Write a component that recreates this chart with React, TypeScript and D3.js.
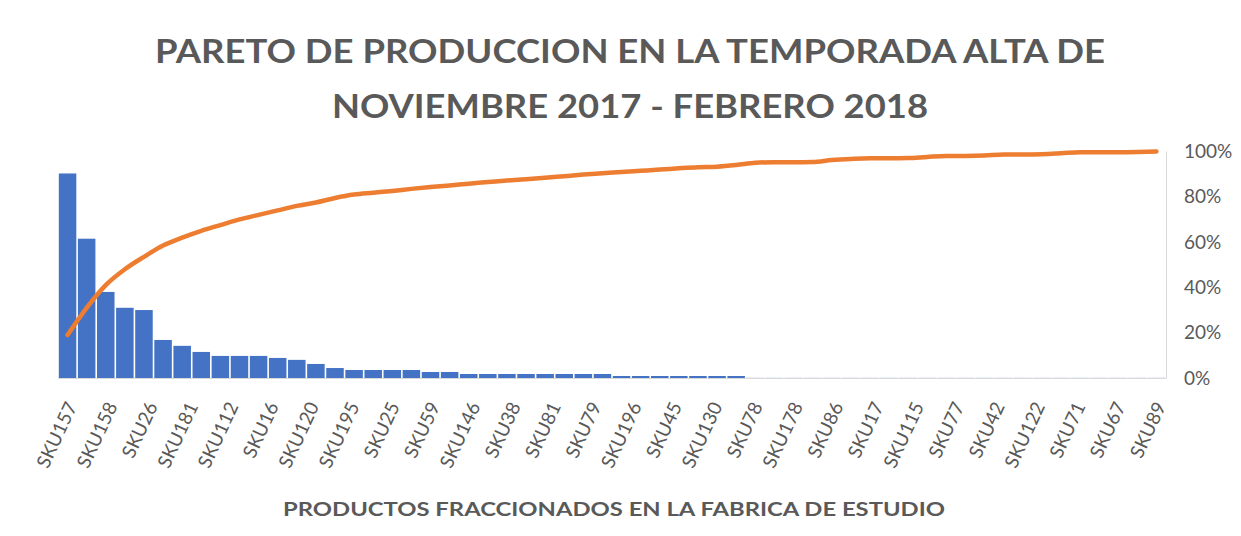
import React from 'react';
import * as d3 from 'd3';

const W = 1241;
const H = 536;

const titleLines = ['PARETO DE PRODUCCION EN LA TEMPORADA ALTA DE', 'NOVIEMBRE 2017 - FEBRERO 2018'];
const xAxisTitle = 'PRODUCTOS FRACCIONADOS EN LA FABRICA DE ESTUDIO';

// production per SKU (sorted, descending)
const barValues = [
  9030, 6150, 3800, 3100, 3000, 1680, 1420, 1150, 975, 975,
  975, 885, 800, 620, 440, 354, 354, 354, 354, 265,
  265, 177, 177, 177, 177, 177, 177, 177, 177, 88,
  88, 88, 88, 88, 88, 88, 5, 5, 5, 5,
  5, 5, 5, 5, 5, 5, 5, 5, 5, 5,
  5, 5, 5, 5, 5, 5, 5, 5,
];

// cumulative percentage (%)
const cumulative = [
  19, 31, 41, 48, 53.5, 58.5, 62, 65, 67.5, 70,
  72, 74, 76, 77.5, 79.5, 81, 81.8, 82.6, 83.5, 84.3,
  85, 85.8, 86.5, 87.2, 87.8, 88.4, 89.1, 89.8, 90.4, 91,
  91.5, 92, 92.6, 93.1, 93.3, 94, 95, 95.3, 95.3, 95.4,
  96.2, 96.7, 97, 97, 97.1, 97.6, 98, 98, 98.2, 98.7,
  98.7, 98.8, 99.2, 99.7, 99.7, 99.7, 99.8, 100,
];

const tickLabels = [
  'SKU157', 'SKU158', 'SKU26', 'SKU181', 'SKU112', 'SKU16', 'SKU120', 'SKU195',
  'SKU25', 'SKU59', 'SKU146', 'SKU38', 'SKU81', 'SKU79', 'SKU196', 'SKU45',
  'SKU130', 'SKU78', 'SKU178', 'SKU86', 'SKU17', 'SKU115', 'SKU77', 'SKU42',
  'SKU122', 'SKU71', 'SKU67', 'SKU89',
];

const FONT = 'Lato, "Open Sans", sans-serif';
const GRAY = '#595959';

export default function App() {
  const n = barValues.length;
  const x = d3.scaleBand<number>().domain(d3.range(n)).range([58, 1166]).padding(0);
  const bw = x.bandwidth();
  const yBar = d3.scaleLinear().domain([0, 10000]).range([378, 151.5]);
  const yPct = d3.scaleLinear().domain([0, 1]).range([378, 151.5]);
  const xLab = d3
    .scalePoint<string>()
    .domain(tickLabels)
    .range([(x(0) as number) + bw / 2, (x(n - 1) as number) + bw / 2]);
  const line = d3
    .line<number>()
    .x((_, i) => (x(i) as number) + bw / 2)
    .y((d) => yPct(d / 100))
    .curve(d3.curveMonotoneX);
  const pctFmt = d3.format('.0%');

  return (
    <svg width={W} height={H} style={{ position: 'absolute', left: 0, top: 0, background: '#fff' }}>
      <rect x={0} y={0} width={W} height={H} fill="#fff" />
      <g fontFamily={FONT} fontWeight={700} fill={GRAY} textAnchor="middle">
        <text x={630} y={62.5} fontSize={32} textLength={950} lengthAdjust="spacingAndGlyphs">
          {titleLines[0]}
        </text>
        <text x={630} y={117.5} fontSize={32} textLength={596} lengthAdjust="spacingAndGlyphs">
          {titleLines[1]}
        </text>
      </g>
      <g>
        {barValues.map((v, i) => (
          <rect
            key={i}
            x={(x(i) as number) + 0.8}
            y={yBar(v)}
            width={bw - 1.6}
            height={378 - yBar(v)}
            fill="#4472C4"
          />
        ))}
      </g>
      <line x1={58} x2={1166} y1={378.5} y2={378.5} stroke="#d9d9d9" strokeWidth={1} />
      <line x1={1166.5} x2={1166.5} y1={151.5} y2={378.5} stroke="#d9d9d9" strokeWidth={1} />
      <path d={line(cumulative) || ''} fill="none" stroke="#ED7D31" strokeWidth={4.5} strokeLinecap="round" strokeLinejoin="round" />
      <g fontFamily={FONT} fontSize={19} fill={GRAY}>
        {yPct.ticks(5).map((t) => (
          <text key={t} x={1184} y={yPct(t)} dy="0.35em">
            {pctFmt(t)}
          </text>
        ))}
      </g>
      <g fontFamily={FONT} fontSize={19} fill={GRAY}>
        {tickLabels.map((l) => (
          <text
            key={l}
            textAnchor="end"
            transform={`translate(${(xLab(l) as number) + 10},${406}) rotate(-65)`}
          >
            {l}
          </text>
        ))}
      </g>
      <text
        x={614}
        y={516}
        fontFamily={FONT}
        fontWeight={700}
        fontSize={18}
        fill={GRAY}
        textAnchor="middle"
        textLength={662}
        lengthAdjust="spacingAndGlyphs"
      >
        {xAxisTitle}
      </text>
    </svg>
  );
}
